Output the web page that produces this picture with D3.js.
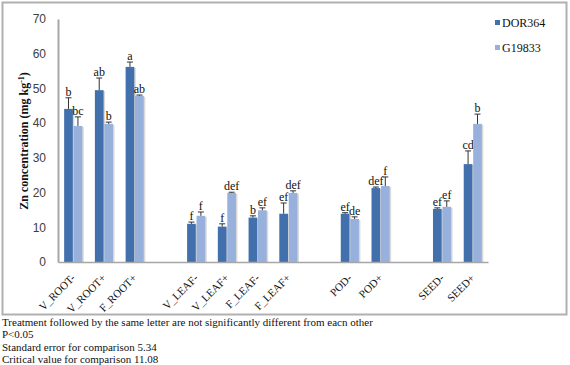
<!DOCTYPE html>
<html>
<head>
<meta charset="utf-8">
<script src="https://cdn.jsdelivr.net/npm/d3@7"></script>
<style>
  body { margin: 0; background: #fff; }
  svg { display: block; }
</style>
</head>
<body>
<div id="chart"></div>
<script>
// categorias (os "gapN" são espaços vazios no eixo)
const categorias = ["V_ROOT-", "V_ROOT+", "F_ROOT+", "gap1", "V_LEAF-", "V_LEAF+", "F_LEAF-", "F_LEAF+", "gap2", "POD-", "POD+", "gap3", "SEED-", "SEED+"];
const tratamentos = ["V_ROOT-", "V_ROOT+", "F_ROOT+", "V_LEAF-", "V_LEAF+", "F_LEAF-", "F_LEAF+", "POD-", "POD+", "SEED-", "SEED+"];
const series = ["DOR364", "G19833"];

const dor364 = [44.1, 49.5, 56.2, 11.0, 10.2, 12.8, 13.9, 13.9, 21.3, 15.3, 28.2];
const dor364Erro = [3.2, 3.5, 1.4, 0.5, 0.8, 0.5, 3.1, 0.3, 0.3, 0.3, 3.8];
const dor364Letras = ["b", "ab", "a", "f", "f", "b", "ef", "ef", "def", "ef", "cd"];

const g19833 = [39.2, 39.8, 47.9, 13.3, 19.9, 14.9, 19.9, 12.4, 21.9, 15.9, 39.8];
const g19833Erro = [2.6, 0.5, 0.2, 1.1, 0.2, 0.7, 0.6, 0.6, 2.6, 1.7, 2.8];
const g19833Letras = ["bc", "b", "ab", "f", "def", "ef", "def", "de", "f", "ef", "b"];

const yTicks = [0, 10, 20, 30, 40, 50, 60, 70];
const notas = [
  "Treatment followed by the same letter are not significantly different from eacn other",
  "P<0.05",
  "Standard error for comparison 5.34",
  "Critical value for comparison 11.08"
];

const cores = { "DOR364": "#4170ac", "G19833": "#97b1dc" };
const serif = "Liberation Serif, Times New Roman, serif";
const sans = "Liberation Sans, Arial, sans-serif";

const width = 570, height = 365;
const margin = { top: 19, left: 58, plotW: 430, plotH: 243 };

const svg = d3.select("#chart").append("svg")
  .attr("width", width).attr("height", height);

// moldura do gráfico
svg.append("rect")
  .attr("x", 2.5).attr("y", 2.5).attr("width", 564).attr("height", 312)
  .attr("fill", "none").attr("stroke", "#b0b0b0").attr("stroke-width", 2);

const inner = svg.append("g").attr("transform", `translate(${margin.left},${margin.top})`);

const x0 = d3.scaleBand().domain(categorias).range([0, margin.plotW]).paddingInner(0.41).paddingOuter(0.2);
const x1 = d3.scaleBand().domain(series).range([0, x0.bandwidth()]).paddingInner(0.08);
const y = d3.scaleLinear().domain([0, 70]).range([margin.plotH, 0]);

const dados = tratamentos.map((t, i) => ({
  categoria: t,
  valores: [
    { serie: "DOR364", valor: dor364[i], erro: dor364Erro[i], letra: dor364Letras[i] },
    { serie: "G19833", valor: g19833[i], erro: g19833Erro[i], letra: g19833Letras[i] }
  ]
}));

// eixo Y
const eixoY = inner.append("g")
  .call(d3.axisLeft(y).tickValues(yTicks).tickSize(0).tickPadding(12));
eixoY.select(".domain").attr("stroke", "#a6a6a6").attr("stroke-width", 2);
eixoY.selectAll("text").attr("font-family", sans).attr("font-size", 12).attr("fill", "#404040");

// barras
const grupos = inner.append("g").selectAll("g")
  .data(dados).join("g")
  .attr("transform", d => `translate(${x0(d.categoria)},0)`);

const barras = grupos.selectAll("g.barra")
  .data(d => d.valores).join("g").attr("class", "barra");

// sombra
barras.append("rect")
  .attr("x", d => x1(d.serie) + 1.5)
  .attr("y", d => y(d.valor) + 1)
  .attr("width", x1.bandwidth())
  .attr("height", d => y(0) - y(d.valor) - 1)
  .attr("fill", "#d9d9d9");

barras.append("rect")
  .attr("x", d => x1(d.serie))
  .attr("y", d => y(d.valor))
  .attr("width", x1.bandwidth())
  .attr("height", d => y(0) - y(d.valor))
  .attr("fill", d => cores[d.serie]);

// barras de erro (só para cima)
const cx = d => x1(d.serie) + x1.bandwidth() / 2;
barras.append("line")
  .attr("x1", cx).attr("x2", cx)
  .attr("y1", d => y(d.valor)).attr("y2", d => y(d.valor + d.erro))
  .attr("stroke", "#333").attr("stroke-width", 1);
barras.append("line")
  .attr("x1", d => cx(d) - 3).attr("x2", d => cx(d) + 3)
  .attr("y1", d => y(d.valor + d.erro)).attr("y2", d => y(d.valor + d.erro))
  .attr("stroke", "#333").attr("stroke-width", 1);

// letras
barras.append("text")
  .attr("x", cx)
  .attr("y", d => y(d.valor + d.erro) - 2)
  .attr("text-anchor", "middle")
  .attr("font-family", serif).attr("font-size", 12)
  .attr("fill", "#111")
  .text(d => d.letra);

// eixo X (só a linha; rótulos à parte, inclinados)
const eixoX = inner.append("g")
  .attr("transform", `translate(0,${y(0)})`)
  .call(d3.axisBottom(x0).tickSize(0).tickFormat(""));
eixoX.select(".domain").attr("stroke", "#a6a6a6").attr("stroke-width", 1.5);

inner.append("g").selectAll("text")
  .data(tratamentos).join("text")
  .attr("transform", d => `translate(${x0(d) + x0.bandwidth() / 2},${y(0) + 14}) rotate(-45)`)
  .attr("text-anchor", "end")
  .attr("dy", "0.35em")
  .attr("font-family", serif).attr("font-size", 11).attr("fill", "#111")
  .text(d => d);

// título do eixo Y
svg.append("text")
  .attr("transform", "translate(28,141) rotate(-90)")
  .attr("text-anchor", "middle")
  .attr("font-family", serif).attr("font-size", 12).attr("font-weight", "bold")
  .attr("fill", "#111")
  .call(t => {
    t.append("tspan").text("Zn concentration (mg kg");
    t.append("tspan").attr("dy", -4).attr("font-size", 8).text("-1");
    t.append("tspan").attr("dy", 4).text(")");
  });

// legenda
const legenda = svg.append("g").selectAll("g")
  .data(series).join("g")
  .attr("transform", (d, i) => `translate(495,${23 + i * 25})`);
legenda.append("rect").attr("x", 0).attr("y", -3).attr("width", 5).attr("height", 5)
  .attr("fill", d => cores[d]);
legenda.append("text").attr("x", 7).attr("y", 0).attr("dy", "0.35em")
  .attr("font-family", serif).attr("font-size", 12).attr("fill", "#111")
  .text(d => d);

// notas de rodapé
svg.append("g").selectAll("text")
  .data(notas).join("text")
  .attr("x", 2)
  .attr("y", (d, i) => [326, 338, 351, 363][i])
  .attr("font-family", serif).attr("font-size", 11).attr("fill", "#111")
  .text(d => d);
</script>
</body>
</html>
